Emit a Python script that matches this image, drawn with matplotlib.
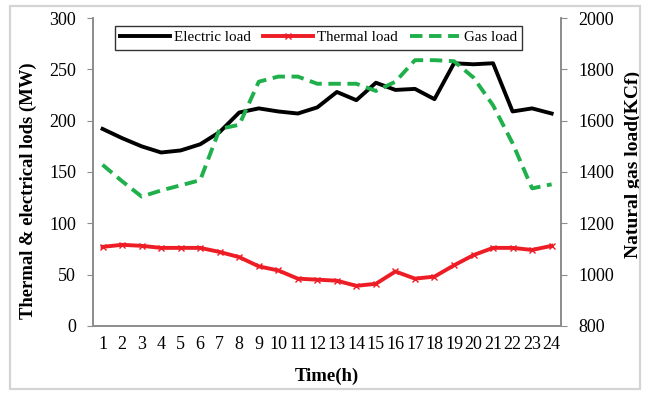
import matplotlib
matplotlib.use('Agg')
import matplotlib.pyplot as plt
from matplotlib.patches import Rectangle

hours = list(range(1, 25))
electric = [192, 183, 175, 169, 171, 177, 189, 208, 212, 209, 207, 213,
            228, 220, 237, 230, 231, 221, 256, 255, 256, 209, 212, 207]
thermal = [77, 79, 78, 76, 76, 76, 72, 67, 58, 54, 46, 45,
           44, 39, 41, 53, 46, 48, 59, 69, 76, 76, 74, 78]
gas = [1428, 1364, 1304, 1328, 1348, 1368, 1568, 1584, 1752, 1772, 1772, 1744,
       1744, 1744, 1716, 1752, 1836, 1836, 1832, 1768, 1660, 1512, 1336, 1352]

plt.rcParams['font.family'] = ['Liberation Serif', 'DejaVu Serif']

fig = plt.figure(figsize=(6.49, 3.94), dpi=100)
ax = fig.add_axes([0.143, 0.173, 0.722, 0.781])
ax2 = ax.twinx()

# light grey outer frame
fig.patches.append(Rectangle((0.016, 0.013), 0.97, 0.973, transform=fig.transFigure,
                             fill=False, edgecolor='#d4d4d4', linewidth=1.6))

l1, = ax.plot(hours, electric, color='black', lw=2.8, label='Electric load', zorder=3)
l2, = ax.plot(hours, thermal, color='#ee1c25', lw=2.8, marker='x', ms=5, mew=1,
              label='Thermal load', zorder=3)
l3, = ax2.plot(hours, gas, color='#1fb04b', lw=2.8, ls=(0, (3.2, 1.7)), label='Gas load')

ax.set_xlim(0.5, 24.5)
ax.set_ylim(0, 300)
ax.set_yticks(range(0, 301, 50))
ax2.set_ylim(800, 2000)
ax2.set_yticks(range(800, 2001, 200))
ax.set_xticks(hours)
ax.set_xticklabels([str(h) for h in hours])

for a in (ax, ax2):
    a.spines['top'].set_visible(False)
    for s in ('left', 'right', 'bottom'):
        a.spines[s].set_color('#8c8c8c')
        a.spines[s].set_linewidth(1.2)
    a.tick_params(labelsize=13, color='#8c8c8c', length=4, pad=8)
ax.tick_params(axis='x', length=0, pad=7)

ax.set_xlabel('Time(h)', fontsize=13.5, fontweight='bold', labelpad=11)
ax.set_ylabel('Thermal & electrical lods (MW)', fontsize=13.4, fontweight='bold', labelpad=9)
ax2.set_ylabel('Natural gas load(KCf)', fontsize=14, fontweight='bold', labelpad=8)
ax.yaxis.label.set_y(0.44)
ax2.yaxis.label.set_y(0.525)

leg = ax.legend(handles=[l1, l2, l3], loc='upper center', bbox_to_anchor=(0.482, 1.0),
                ncol=3, fontsize=10.8, frameon=True, fancybox=False, borderpad=0.35,
                handlelength=3.3, columnspacing=0.8, handletextpad=0.3)
leg.get_frame().set_edgecolor('black')
leg.get_frame().set_linewidth(1)

fig.savefig('out.png', dpi=100)
